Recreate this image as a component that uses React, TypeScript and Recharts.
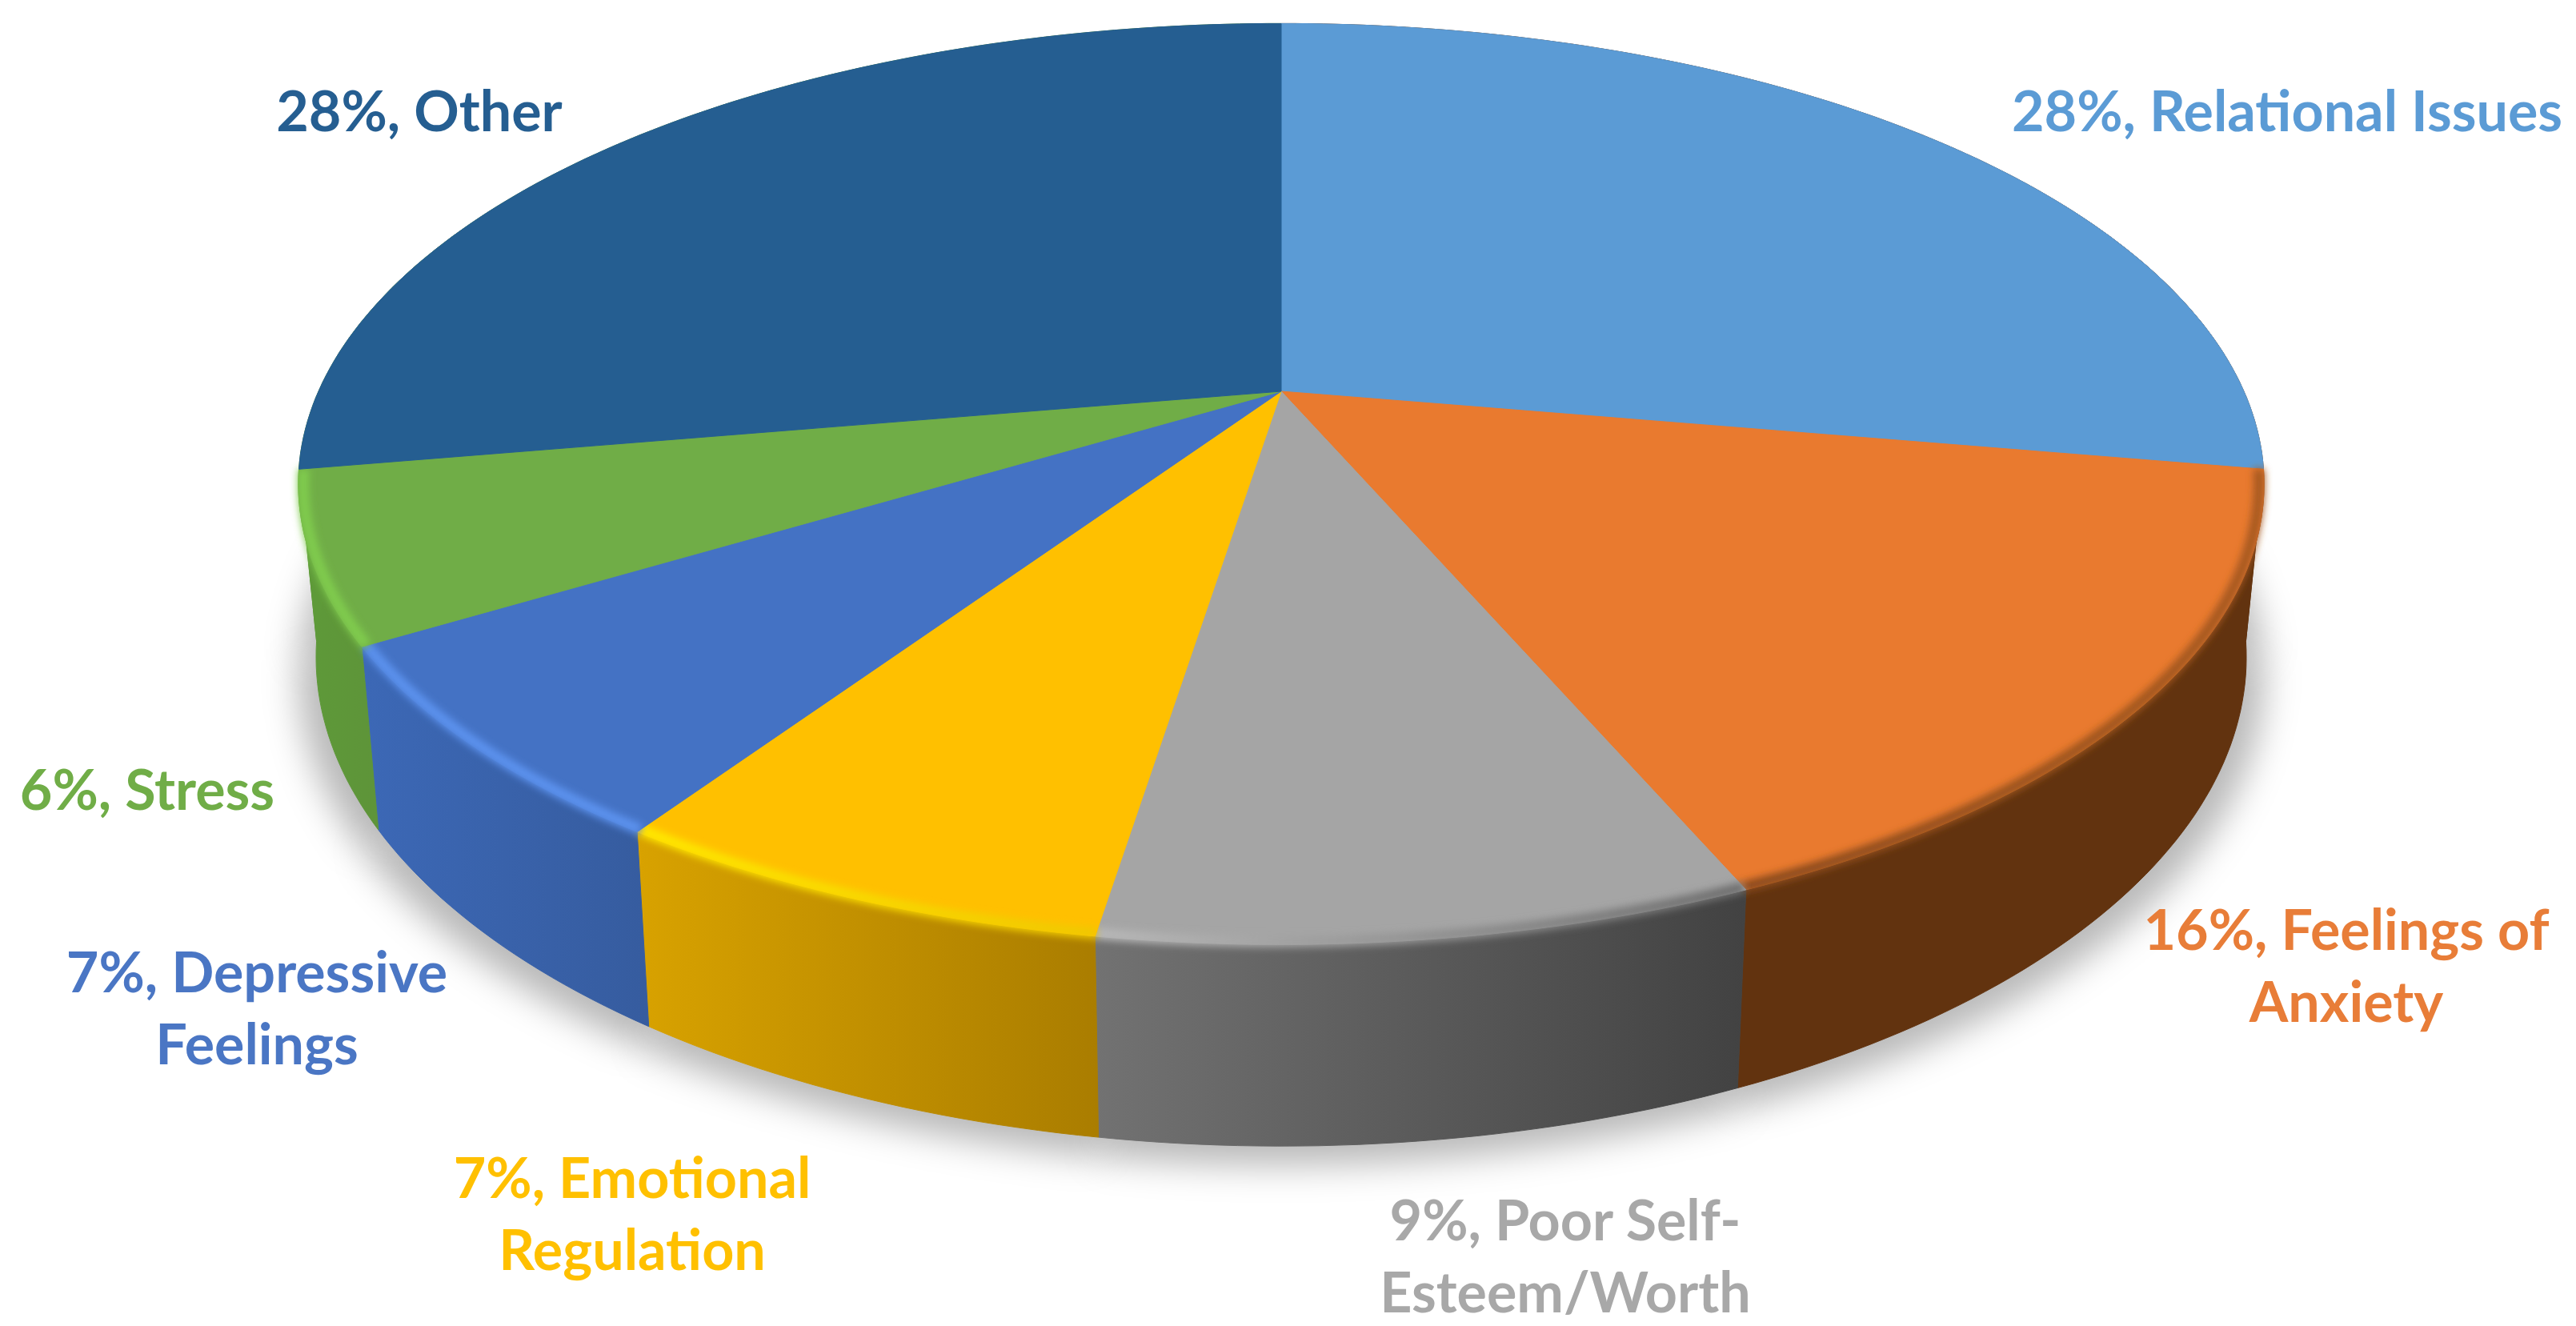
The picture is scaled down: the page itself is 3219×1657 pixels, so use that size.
import { PieChart, Pie } from 'recharts';

const categories = [
  'Relational Issues',
  'Feelings of Anxiety',
  'Poor Self-Esteem/Worth',
  'Emotional Regulation',
  'Depressive Feelings',
  'Stress',
  'Other',
];
const shares = [28, 16, 9, 7, 7, 6, 28];
const labelLines = [
  ['Relational Issues'],
  ['Feelings of', 'Anxiety'],
  ['Poor Self-', 'Esteem/Worth'],
  ['Emotional', 'Regulation'],
  ['Depressive', 'Feelings'],
  ['Stress'],
  ['Other'],
];

const tableData = categories.map((name, i) => ({ name, value: shares[i] }));

const faceColors = ['#5B9BD5', '#E97A2F', '#A5A5A5', '#FFC000', '#4472C4', '#70AD47', '#255E91'];
// the two back slices barely show a wall, so they take the tone of their neighbour
const wallLeftColors = ['#62330F', '#62330F', '#727272', '#D8A200', '#3C68B6', '#5E9A39', '#5E9A39'];
const wallRightColors = ['#62330F', '#62330F', '#424242', '#AA7D00', '#365C9F', '#5E9439', '#5E9439'];
// back slices have no lit edge
const rimLeftColors = [null, '#8A4A1C', '#B8B8B8', '#FFE800', '#5C92EE', '#80CC4E', null];
const rimRightColors = [null, '#A85A20', '#6E6E6E', '#F0C800', '#5C92EE', '#80CC4E', null];
const textColors = ['#5B9BD5', '#E87D38', '#A8A8A8', '#FFC000', '#4A76C4', '#70AD47', '#255E91'];

// center of each label block and the baseline of its first line
const labelSpots = [
  { x: 2858, y: 164 },
  { x: 2932, y: 1187 },
  { x: 1956, y: 1550 },
  { x: 790, y: 1497 },
  { x: 321, y: 1240 },
  { x: 184, y: 1012 },
  { x: 524, y: 164 },
];

const W = 3219;
const H = 1657;
const PIE_X = 1601;
const PIE_Y = 489;
const PIE_R = 1203;

// the disc is tilted away from the viewer, so near edge reads larger than far edge
const SQUASH = 0.459;
const TILT = 0.2013;
const WALL_DROP = 209;
const WALL_SCALE_X = 0.982;
const WALL_SCALE_Y = 1.062;

const rad = (deg: number) => (deg * Math.PI) / 180;

function project(cx: number, cy: number, r: number, deg: number, sx = 1, sy = 1, drop = 0) {
  const u = Math.cos(rad(deg));
  const v = -Math.sin(rad(deg));
  const d = 1 - TILT * v;
  return {
    x: cx + (sx * r * u) / d,
    y: cy + drop + (sy * r * SQUASH * v) / d,
  };
}

function arcPoints(cx: number, cy: number, r: number, from: number, to: number, sx = 1, sy = 1, drop = 0) {
  const steps = Math.max(2, Math.ceil(Math.abs(to - from)));
  const pts = [];
  for (let i = 0; i <= steps; i++) {
    pts.push(project(cx, cy, r, from + ((to - from) * i) / steps, sx, sy, drop));
  }
  return pts;
}

const toPath = (pts: { x: number; y: number }[]) =>
  pts.map((p, i) => `${i === 0 ? 'M' : 'L'}${p.x.toFixed(1)},${p.y.toFixed(1)}`).join(' ');

function ShadowSlice(props: any) {
  const { cx, cy, outerRadius, startAngle, endAngle } = props;
  const drop = WALL_DROP + 24;
  const arc = arcPoints(cx, cy, outerRadius, startAngle, endAngle, 1, WALL_SCALE_Y, drop);
  const hub = { x: cx, y: cy + drop };
  return <path d={`${toPath([hub, ...arc])} Z`} fill="#000" fillOpacity={0.28} filter="url(#dropBlur)" />;
}

function WallSlice(props: any) {
  const { cx, cy, outerRadius, startAngle, endAngle, name } = props;
  const i = categories.indexOf(name);
  const upper = arcPoints(cx, cy, outerRadius, startAngle, endAngle);
  const lower = arcPoints(cx, cy, outerRadius, startAngle, endAngle, WALL_SCALE_X, WALL_SCALE_Y, WALL_DROP).reverse();
  const id = `wall-${i}`;
  return (
    <g>
      <defs>
        <linearGradient id={id} x1="0" y1="0" x2="1" y2="0">
          <stop offset="0%" stopColor={wallLeftColors[i]} />
          <stop offset="100%" stopColor={wallRightColors[i]} />
        </linearGradient>
      </defs>
      <path d={`${toPath([...upper, ...lower])} Z`} fill={`url(#${id})`} stroke={`url(#${id})`} strokeWidth={1} />
    </g>
  );
}

function FaceSlice(props: any) {
  const { cx, cy, outerRadius, startAngle, endAngle, name } = props;
  const i = categories.indexOf(name);
  const arc = arcPoints(cx, cy, outerRadius, startAngle, endAngle);
  const hub = { x: cx, y: cy };
  const rim = arcPoints(cx, cy, outerRadius, startAngle, endAngle, 0.995, 0.995);
  const id = `rim-${i}`;
  return (
    <g>
      <path d={`${toPath([hub, ...arc])} Z`} fill={faceColors[i]} stroke={faceColors[i]} strokeWidth={1} />
      {rimLeftColors[i] && (
        <>
          <defs>
            <linearGradient id={id} x1="0" y1="0" x2="1" y2="0">
              <stop offset="0%" stopColor={rimLeftColors[i] as string} />
              <stop offset="100%" stopColor={rimRightColors[i] as string} />
            </linearGradient>
          </defs>
          <path d={toPath(rim)} fill="none" stroke={`url(#${id})`} strokeWidth={14} filter="url(#rimBlur)" />
        </>
      )}
    </g>
  );
}

function SliceLabel(props: any) {
  const { index, value } = props;
  const spot = labelSpots[index];
  const lines = labelLines[index];
  return (
    <text
      x={spot.x}
      y={spot.y}
      textAnchor="middle"
      fontFamily="Lato, sans-serif"
      fontWeight={700}
      fontSize={70}
      fill={textColors[index]}
    >
      {lines.map((line, n) => (
        <tspan key={line} x={spot.x} dy={n === 0 ? 0 : 90}>
          {n === 0 ? `${value}%, ${line}` : line}
        </tspan>
      ))}
    </text>
  );
}

export default function App() {
  const pieProps = {
    data: tableData,
    dataKey: 'value',
    nameKey: 'name',
    cx: PIE_X,
    cy: PIE_Y,
    outerRadius: PIE_R,
    startAngle: 90,
    endAngle: -270,
    stroke: 'none',
    isAnimationActive: false,
  };
  return (
    <div style={{ position: 'absolute', left: 0, top: 0, width: W, height: H, overflow: 'hidden', background: '#fff' }}>
      <PieChart width={W} height={H} margin={{ top: 0, right: 0, bottom: 0, left: 0 }}>
        <defs>
          <filter id="dropBlur" filterUnits="userSpaceOnUse" x={0} y={0} width={W} height={H}>
            <feGaussianBlur stdDeviation={22} />
          </filter>
          <filter id="rimBlur" filterUnits="userSpaceOnUse" x={0} y={0} width={W} height={H}>
            <feGaussianBlur stdDeviation={5} />
          </filter>
        </defs>
        <Pie {...pieProps} shape={ShadowSlice} />
        <Pie {...pieProps} shape={WallSlice} />
        <Pie {...pieProps} shape={FaceSlice} label={SliceLabel} labelLine={false} />
      </PieChart>
    </div>
  );
}
